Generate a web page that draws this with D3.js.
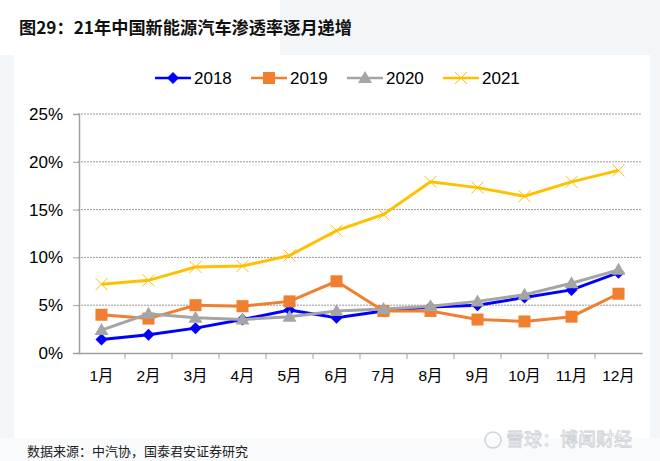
<!DOCTYPE html>
<html><head><meta charset="utf-8">
<script src="https://cdn.jsdelivr.net/npm/d3@7"></script>
<style>body{margin:0;background:#fff;}svg{display:block;}</style>
</head><body>
<svg id="c" width="660" height="461"></svg>
<script>
const months = ["1月","2月","3月","4月","5月","6月","7月","8月","9月","10月","11月","12月"];
const yTicks = [0, 5, 10, 15, 20, 25];
const s2018 = [1.4, 1.9, 2.6, 3.5, 4.5, 3.7, 4.4, 4.8, 5.0, 5.8, 6.6, 8.4];
const s2019 = [4.0, 3.6, 5.0, 4.9, 5.4, 7.5, 4.4, 4.4, 3.5, 3.3, 3.8, 6.2];
const s2020 = [2.4, 4.1, 3.7, 3.5, 3.8, 4.4, 4.6, 4.9, 5.4, 6.1, 7.3, 8.7];
const s2021 = [7.2, 7.6, 9.0, 9.1, 10.2, 12.8, 14.5, 17.9, 17.3, 16.4, 17.9, 19.1];
const seriesNames = ["2018","2019","2020","2021"];
const colors = ["#0000ff","#f07f2f","#a5a5a5","#ffc000"];
const series = [s2018, s2019, s2020, s2021];

const svg = d3.select("#c");
// background
svg.append("rect").attr("width",660).attr("height",461).attr("fill","#f3f6f9");
svg.append("rect").attr("x",0).attr("y",0).attr("width",280).attr("height",55).attr("fill","#ffffff");
svg.append("rect").attr("x",14).attr("y",55).attr("width",636).attr("height",383).attr("fill","#ffffff");
svg.append("rect").attr("x",0).attr("y",438).attr("width",660).attr("height",23).attr("fill","#f8fafc");

svg.append("text").attr("x",19).attr("y",34).text("图29：21年中国新能源汽车渗透率逐月递增")
  .attr("font-family","'Noto Sans CJK SC', sans-serif").attr("font-weight","bold").attr("font-size",17).attr("fill","#111")
  .attr("textLength",333).attr("lengthAdjust","spacingAndGlyphs");

svg.append("text").attr("x",27).attr("y",456).text("数据来源：中汽协，国泰君安证券研究")
  .attr("font-family","'Noto Sans CJK SC', sans-serif").attr("font-size",13).attr("fill","#222");
svg.append("circle").attr("cx",493).attr("cy",440).attr("r",8).attr("fill","none").attr("stroke","#cfd3d8").attr("stroke-width",1.5);
svg.append("text").attr("x",506).attr("y",446).text("雪球：博闻财经")
  .attr("font-family","'Noto Sans CJK SC', sans-serif").attr("font-size",18).attr("fill","none")
  .attr("stroke","#cfd3d8").attr("stroke-width",0.8);

const L = 78, R = 642, T = 114, B = 353;
const x = d3.scaleBand().domain(months).range([L, R]);
const y = d3.scaleLinear().domain([0, 25]).range([B, T]);

// gridlines
svg.append("g").selectAll("line").data(yTicks.filter(d=>d>0)).join("line")
  .attr("x1",L).attr("x2",R).attr("y1",d=>y(d)).attr("y2",d=>y(d))
  .attr("stroke","#9a9a9a").attr("stroke-width",1).attr("stroke-dasharray","2,1");

// y axis
const ya = svg.append("g").attr("transform",`translate(${L+1},0)`)
  .call(d3.axisLeft(y).tickValues(yTicks).tickFormat(d=>d+"%").tickSize(6).tickPadding(10));
ya.select(".domain").attr("stroke","#a0a0a0").attr("stroke-width",1.5);
ya.selectAll(".tick line").attr("stroke","#a0a0a0");
ya.selectAll("text").attr("font-family","Arial, 'Liberation Sans', sans-serif").attr("font-size",17).attr("fill","#000");

// x axis
const xa = svg.append("g").attr("transform",`translate(0,${B})`)
  .call(d3.axisBottom(x).tickSize(0).tickPadding(17));
xa.select(".domain").attr("stroke","#a0a0a0").attr("stroke-width",1.5);
xa.selectAll("text").attr("font-family","Arial, 'Liberation Sans', 'Noto Sans CJK SC', sans-serif").attr("font-size",15.5).attr("fill","#000");
svg.append("g").selectAll("line").data(months.slice(1)).join("line")
  .attr("x1",d=>x(d)).attr("x2",d=>x(d)).attr("y1",B).attr("y2",B+6)
  .attr("stroke","#a0a0a0").attr("stroke-width",1);

const cx = i => x(months[i]) + x.bandwidth()/2;
const line = d3.line().x((d,i)=>cx(i)).y(d=>y(d));

function marker(g, k, px, py, col) {
  if (k===0) {
    g.append("path").attr("d",`M${px},${py-6}L${px+6},${py}L${px},${py+6}L${px-6},${py}Z`).attr("fill",col);
  } else if (k===1) {
    g.append("rect").attr("x",px-6).attr("y",py-6).attr("width",12).attr("height",12).attr("fill",col);
  } else if (k===2) {
    g.append("path").attr("d",`M${px},${py-7}L${px+7},${py+5}L${px-7},${py+5}Z`).attr("fill",col);
  } else {
    g.append("path").attr("d",`M${px-6},${py-6}L${px+6},${py+6}M${px-6},${py+6}L${px+6},${py-6}`)
      .attr("stroke",col).attr("stroke-width",1).attr("fill","none");
  }
}

[3,0,1,2].forEach(k=>{
  const g = svg.append("g");
  g.append("path").datum(series[k]).attr("d",line).attr("fill","none")
    .attr("stroke",colors[k]).attr("stroke-width",3);
  series[k].forEach((v,i)=>marker(g,k,cx(i),y(v),colors[k]));
});

// legend
const legX = [155, 251, 347, 443];
seriesNames.forEach((nm,k)=>{
  const g = svg.append("g");
  const lx = legX[k], ly = 78;
  g.append("line").attr("x1",lx).attr("x2",lx+36).attr("y1",ly).attr("y2",ly).attr("stroke",colors[k]).attr("stroke-width",2.5);
  marker(g,k,lx+18,ly,colors[k]);
  g.append("text").attr("x",lx+39).attr("y",ly+6).text(nm)
    .attr("font-family","Arial, 'Liberation Sans', sans-serif").attr("font-size",17).attr("fill","#000");
});
</script>
</body></html>
